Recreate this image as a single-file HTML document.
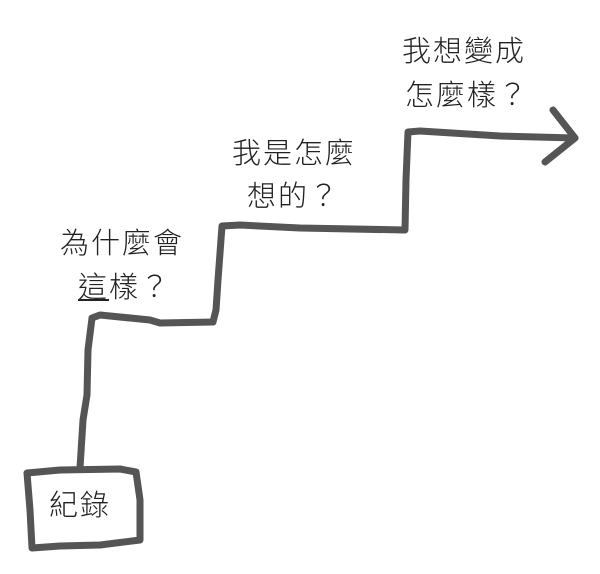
<!DOCTYPE html>
<html><head><meta charset="utf-8"><style>
html,body{margin:0;padding:0;background:#fff;}
.wrap{position:relative;width:600px;height:574px;overflow:hidden;}
svg{position:absolute;left:0;top:0;}
.t{position:absolute;font-family:"Liberation Sans","Noto Sans CJK TC",sans-serif;font-size:29px;font-weight:300;color:#222;line-height:44px;letter-spacing:2px;white-space:nowrap;}
</style></head><body><div class="wrap">
<svg width="600" height="574" viewBox="0 0 600 574">
<g fill="none" stroke="#555" stroke-width="7" stroke-linecap="round" stroke-linejoin="round">
<path d="M80,468 L83,420 L87,395 L88,350 L92,318 L100,315 L150,320 L160,323 L213,322 L216,310 L218,280 L222,226 L240,225 L300,228 L405,230 L406,180 L408,132 L420,131 L500,136 L575,138"/>
<path d="M553,110 L575,138 L545,162"/>
<path d="M27,473 L60,470 L120,469 L136,472 L140,500 L140,540 L100,545 L60,546 L32,548 L30,510 Z"/>
</g>
</svg>
<div class="t" style="left:49px;top:484px;">紀錄</div>
<div class="t" style="left:60px;top:222px;">為什麼會</div>
<div class="t" style="left:78px;top:266px;"><span style="text-decoration:underline">這</span>樣？</div>
<div class="t" style="left:232px;top:132px;">我是怎麼</div>
<div class="t" style="left:247px;top:175px;">想的？</div>
<div class="t" style="left:402px;top:30px;">我想變成</div>
<div class="t" style="left:405px;top:74px;">怎麼樣？</div>
</div></body></html>
